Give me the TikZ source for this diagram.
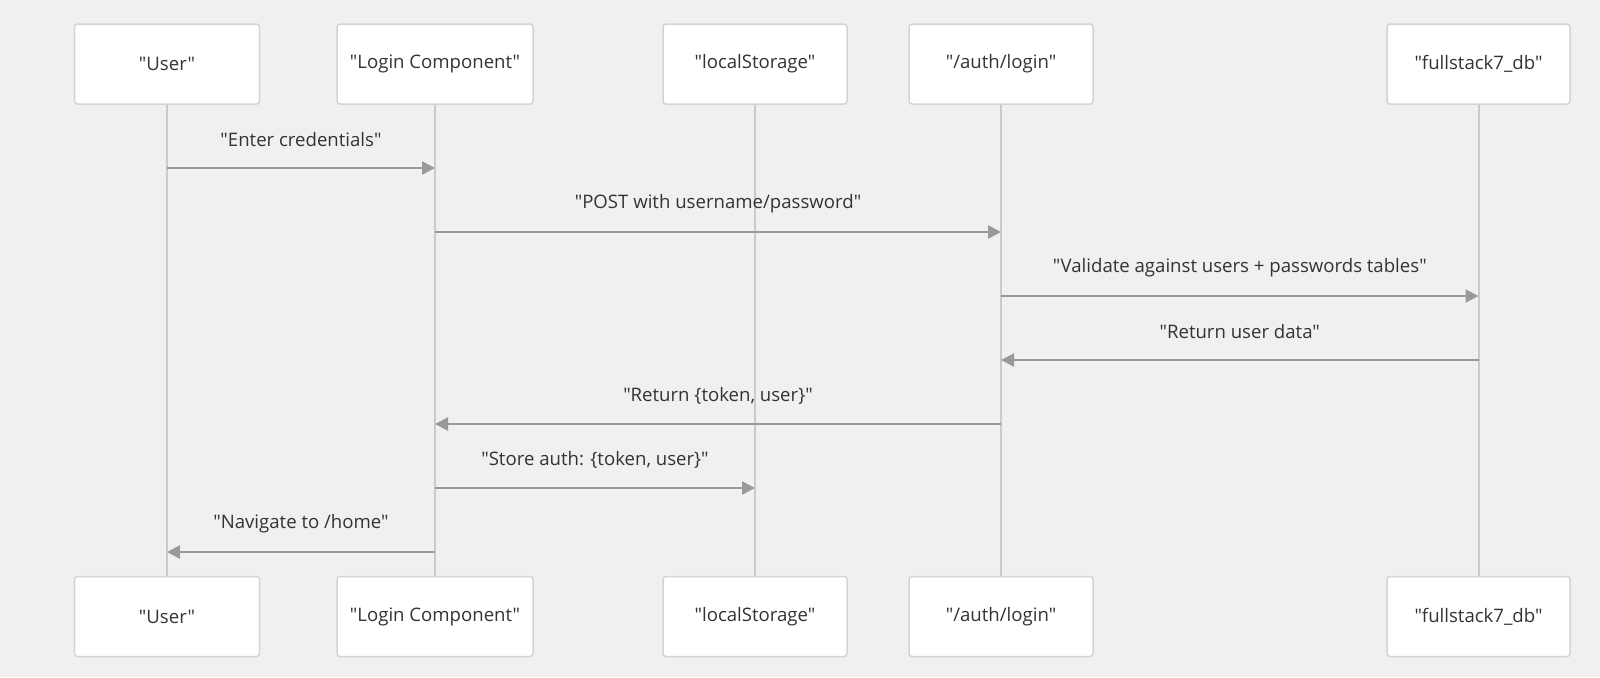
\documentclass[tikz,border=0pt]{standalone}
\usepackage{fontspec}
\setmainfont{Open Sans}[Ligatures=TeXOff]
\usepackage{tikz}
\usetikzlibrary{arrows.meta}

\definecolor{bgcol}{HTML}{F2F0EF}
\definecolor{boxline}{HTML}{D4D4D4}
\definecolor{lifecol}{HTML}{CACACA}
\definecolor{msgcol}{HTML}{999999}
\definecolor{txt}{HTML}{333333}

% straight double quotes round a text
\newcommand{\qt}[1]{\char34#1\char34}

\begin{document}
\begin{tikzpicture}[x=0.5pt, y=-0.5pt,
    party/.style={draw=boxline, fill=white, rounded corners=1.5pt, line width=0.75pt,
        minimum height=40pt, inner sep=0pt, text=txt, font=\fontsize{9.3}{11}\selectfont},
    life/.style={draw=lifecol, line width=1pt},
    msg/.style={draw=msgcol, line width=1.15pt, -{Triangle[length=6.5pt, width=6.5pt]}},
    lbl/.style={midway, yshift=14pt, text=txt, font=\fontsize{9.3}{11}\selectfont}]

    % Background and page size
    \fill[bgcol] (0,0) rectangle (1600,677);
    \useasboundingbox (0,0) rectangle (1600,677);

    % Participants, top row
    \node[party, minimum width=92.5pt] (User)  at (167,64)    {\qt{User}};
    \node[party, minimum width=98pt]   (Login) at (435,64)    {\qt{Login Component}};
    \node[party, minimum width=92pt]   (Store) at (755,64)    {\qt{localStorage}};
    \node[party, minimum width=92pt]   (Auth)  at (1001,64)   {\qt{/auth/login}};
    \node[party, minimum width=91.5pt] (DB)    at (1478.5,64) {\qt{fullstack7\_db}};

    % Participants, bottom row
    \node[party, minimum width=92.5pt] (User-b)  at (167,616.5)    {\qt{User}};
    \node[party, minimum width=98pt]   (Login-b) at (435,616.5)    {\qt{Login Component}};
    \node[party, minimum width=92pt]   (Store-b) at (755,616.5)    {\qt{localStorage}};
    \node[party, minimum width=92pt]   (Auth-b)  at (1001,616.5)   {\qt{/auth/login}};
    \node[party, minimum width=91.5pt] (DB-b)    at (1478.5,616.5) {\qt{fullstack7\_db}};

    % Lifelines and the points where messages meet them
    \foreach \n in {User, Login, Store, Auth, DB} {
        \draw[life] (\n.south) -- (\n-b.north);
        \foreach \r/\y in {1/168, 2/232, 3/296, 4/360, 5/424, 6/488, 7/552}
            \coordinate (\n\r) at (\n.south |- 0,\y);
    }

    % Messages
    \draw[msg] (User1) -- (Login1) node[lbl] {\qt{Enter credentials}};
    \draw[msg] (Login2) -- (Auth2) node[lbl] {\qt{POST with username/password}};
    \draw[msg] (Auth3) -- (DB3) node[lbl] {\qt{Validate against users + passwords tables}};
    \draw[msg] (DB4) -- (Auth4) node[lbl] {\qt{Return user data}};
    \draw[msg] (Auth5) -- (Login5) node[lbl] {\qt{Return \{token, user\}}};
    \draw[msg] (Login6) -- (Store6) node[lbl] {\qt{Store auth: \{token, user\}}};
    \draw[msg] (Login7) -- (User7) node[lbl] {\qt{Navigate to /home}};

\end{tikzpicture}
\end{document}
